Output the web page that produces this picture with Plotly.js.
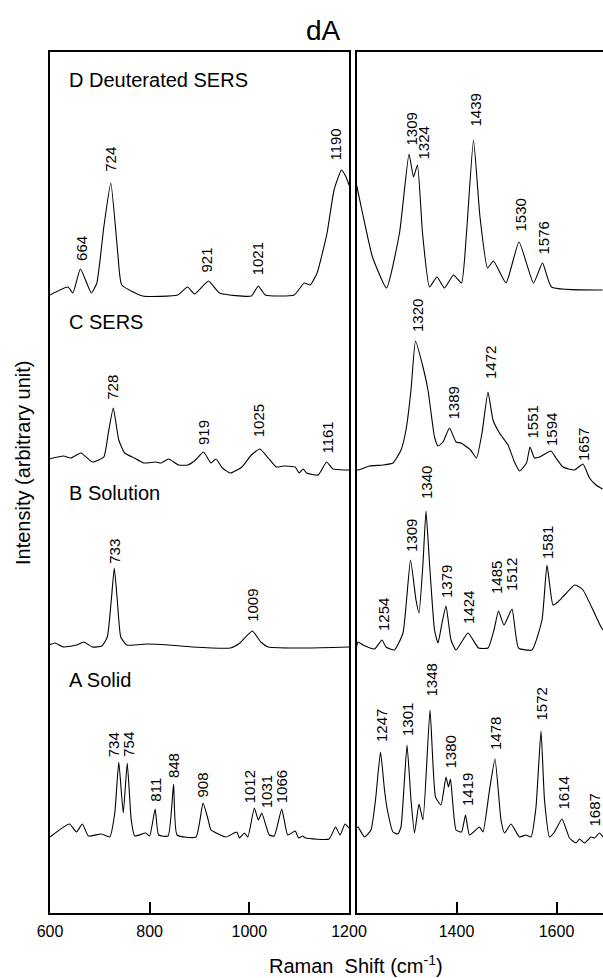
<!DOCTYPE html>
<html>
<head>
<meta charset="utf-8">
<script src="https://cdn.plot.ly/plotly-3.0.1.min.js"></script>
<style>html,body{margin:0;padding:0;background:#fff;}#chart{width:603px;height:978px;}</style>
</head>
<body>
<div id="chart"></div>
<script>
// ---- Spectrum D: Deuterated SERS (wavenumber, intensity above its own baseline) ----
const wavenumberD = [600,636,646,661,683,694,708,722,736,744,786,856,876,890,918,940,1004,1018,1032,1090,1110,1122,1136,1156,1170,1185,1194,1200,
  1201,1212,1232,1260,1286,1305,1314,1322,1332,1346,1361,1376,1394,1410,1420,1434,1447,1462,1474,1499,1525,1554,1572,1590,1692];
const intensityD  = [0,8,2,26,2,12,68,112,42,10,-1,0,8,1,14,2,-1,9,0,0,12,10,22,62,105,125,118,110,
  108,82,38,7,62,141,118,130,62,8,18,7,20,12,62,155,78,27,34,12,53,12,32,8,5];

// ---- Spectrum C: SERS ----
const wavenumberC = [598,627,642,662,685,708,717,727,738,750,769,788,812,823,838,858,877,892,908,923,933,946,962,985,1004,1021,1038,1054,1069,1092,1100,1108,1115,1138,1155,1168,1192,1200,
  1203,1226,1253,1273,1289,1299,1309,1318,1333,1343,1356,1363,1373,1386,1399,1409,1428,1440,1451,1463,1473,1486,1503,1516,1526,1540,1547,1556,1566,1589,1599,1613,1636,1653,1666,1679,1692];
const intensityC  = [3,6,4,9,0,5,29,54,22,9,4,-1,0,-1,3,-3,-3,2,10,-1,3,-6,-11,-5,7,13,4,-5,-4,-5,-11,-7,-11,-13,0,-7,-8,-8,
  -8,-4,-3,-1,12,32,72,121,95,72,25,16,20,34,20,19,12,4,29,70,42,29,17,0,-9,-1,15,4,5,11,4,-5,-8,-2,-16,-23,-27];

// ---- Spectrum B: Solution ----
const wavenumberB = [598,610,627,654,668,685,704,715,723,729,735,742,754,796,838,885,962,981,1006,1023,1038,1115,1200,
  1203,1213,1236,1251,1259,1276,1293,1308,1319,1325,1333,1339,1346,1356,1363,1371,1379,1389,1399,1423,1444,1463,1475,1484,1495,1511,1524,1551,1571,1581,1593,1603,1616,1636,1642,1653,1673,1689,1693];
const intensityB  = [2,4,0,2,5,0,1,10,47,79,47,10,2,3,2,0,-1,4,16,5,0,-1,0,
  5,2,-2,7,0,-3,14,87,47,34,84,136,84,17,4,24,41,7,-3,14,-1,-1,17,36,22,38,-1,-3,27,82,42,45,52,62,61,57,37,20,17];

// ---- Spectrum A: Solid ----
const wavenumberA = [600,639,653,665,677,703,720,730,738,747,755,763,770,792,800,811,818,837,848,855,893,907,916,923,930,953,975,980,990,997,1010,1018,1025,1040,1050,1065,1077,1092,1099,1107,1113,1160,1173,1182,1192,1200,
  1203,1216,1229,1238,1248,1256,1261,1273,1283,1289,1301,1309,1316,1325,1333,1347,1358,1369,1379,1384,1388,1399,1410,1418,1426,1446,1453,1466,1477,1489,1496,1509,1526,1539,1549,1559,1569,1576,1586,1596,1611,1626,1639,1646,1656,1669,1676,1686,1693];
const intensityA  = [0,13,5,13,1,3,0,24,75,24,74,17,1,4,1,28,2,1,53,2,0,34,20,7,5,0,5,-1,4,0,29,17,24,2,1,28,2,6,-1,1,-1,-2,10,2,13,9,
  10,0,7,37,85,47,29,5,3,10,92,37,4,33,17,127,40,32,60,50,58,7,5,22,2,10,5,47,78,17,4,13,0,2,0,30,106,37,0,5,18,-1,-6,-2,-6,0,-1,4,0];

// ---- Peak labels (text, wavenumber where the label sits, intensity at label foot) ----
const peakTextD = ['664','724','921','1021','1190','1309','1324','1439','1530','1576'];
const peakXD    = [663,721,915,1017,1171,1309,1333,1437,1527,1573];
const peakYD    = [33,122,22,19,133,148,134,167,62,39];

const peakTextC = ['728','919','1025','1161','1320','1389','1472','1551','1594','1657'];
const peakXC    = [725,908,1019,1155,1322,1393,1468,1551,1590,1654];
const peakYC    = [61,16,24,7,129,41,82,22,15,0];

const peakTextB = ['733','1009','1254','1309','1340','1379','1424','1485','1512','1581'];
const peakXB    = [729,1006,1254,1310,1340,1380,1424,1480,1510,1582];
const peakYB    = [82,24,15,94,147,48,22,52,55,87];

const peakTextA = ['734','754','811','848','908','1012','1031','1066','1247','1301','1348','1380','1419','1478','1572','1614','1687'];
const peakXA    = [728,757,810,848,907,1001,1035,1065,1250,1302,1349,1387,1422,1478,1569,1613,1675];
const peakYA    = [79,79,34,58,39,33,28,33,94,100,139,67,30,86,115,26,9];

const panelNames = ['D Deuterated SERS','C SERS','B Solution','A Solid'];
const tickValsLeft = [600,800,1000,1200];
const tickValsRight = [1400,1600];

// ---- build ----
const FONT = 'Liberation Sans, Arial, Helvetica, sans-serif';
const spectra = [
  {x: wavenumberD, y: intensityD, off: 618, lt: peakTextD, lx: peakXD, ly: peakYD, nameY: 833},
  {x: wavenumberC, y: intensityC, off: 451, lt: peakTextC, lx: peakXC, ly: peakYC, nameY: 591},
  {x: wavenumberB, y: intensityB, off: 266, lt: peakTextB, lx: peakXB, ly: peakYB, nameY: 420},
  {x: wavenumberA, y: intensityA, off: 76,  lt: peakTextA, lx: peakXA, ly: peakYA, nameY: 233}
];

const LINE = {color: '#000', width: 1.1, shape: 'spline', smoothing: 0.45};
const traces = [];
const annotations = [];
spectra.forEach((s, k) => {
  const lx = [], ly = [], rx = [], ry = [];
  s.x.forEach((v, i) => {
    if (v <= 1200) { lx.push(v); ly.push(s.y[i] + s.off); }
    if (v >= 1200) { rx.push(v); ry.push(s.y[i] + s.off); }
  });
  traces.push({x: lx, y: ly, xaxis: 'x', yaxis: 'y', mode: 'lines', type: 'scatter',
    line: LINE, hoverinfo: 'skip'});
  traces.push({x: rx, y: ry, xaxis: 'x2', yaxis: 'y2', mode: 'lines', type: 'scatter',
    line: LINE, hoverinfo: 'skip'});
  s.lt.forEach((t, i) => {
    const right = s.lx[i] > 1200;
    annotations.push({text: t, x: s.lx[i], y: s.ly[i] + s.off,
      xref: right ? 'x2' : 'x', yref: right ? 'y2' : 'y',
      showarrow: false, textangle: -90, xanchor: 'center', yanchor: 'bottom',
      font: {family: FONT, size: 15, color: '#000'}, borderpad: 0});
  });
  annotations.push({text: panelNames[k], x: 634, y: s.nameY, xref: 'x', yref: 'y',
    showarrow: false, xanchor: 'left', yanchor: 'middle',
    font: {family: FONT, size: 20, color: '#000'}});
});

annotations.push({text: 'Intensity (arbitrary unit)', xref: 'paper', yref: 'paper',
  x: (23 - 50) / 553, y: (913 - 463) / 861, textangle: -90, showarrow: false,
  xanchor: 'center', yanchor: 'middle', font: {family: FONT, size: 20, color: '#000'}});
annotations.push({text: 'Raman\u00a0 Shift (cm<sup>-1</sup>)', xref: 'paper', yref: 'paper',
  x: (356 - 50) / 553, y: (913 - 964) / 861, showarrow: false,
  xanchor: 'center', yanchor: 'middle', font: {family: FONT, size: 20, color: '#000'}});

const axisBase = {showline: true, linecolor: '#000', linewidth: 2, showgrid: false, zeroline: false};
const layout = {
  width: 603, height: 978,
  margin: {l: 50, r: 0, t: 52, b: 65, pad: 0},
  paper_bgcolor: '#fff', plot_bgcolor: '#fff',
  showlegend: false,
  title: {text: 'dA', x: 323 / 603, xanchor: 'center', y: 1 - 30 / 978, yanchor: 'middle',
    font: {family: FONT, size: 28, color: '#000'}},
  xaxis: Object.assign({}, axisBase, {domain: [0, 299 / 553], range: [600, 1200], anchor: 'y',
    mirror: true, ticks: 'inside', ticklen: 11, tickwidth: 2, tickcolor: '#000',
    tickvals: tickValsLeft, ticktext: tickValsLeft.map(String), ticklabelstandoff: 3,
    tickfont: {family: FONT, size: 16, color: '#000'}}),
  xaxis2: Object.assign({}, axisBase, {domain: [306.5 / 553, 1], range: [1200, 1693], anchor: 'y2',
    mirror: true, ticks: 'inside', ticklen: 11, tickwidth: 2, tickcolor: '#000',
    tickvals: tickValsRight, ticktext: tickValsRight.map(String), ticklabelstandoff: 3,
    tickfont: {family: FONT, size: 16, color: '#000'}}),
  yaxis: Object.assign({}, axisBase, {domain: [0, 1], range: [0, 861], anchor: 'x', mirror: true,
    showticklabels: false, ticks: ''}),
  yaxis2: Object.assign({}, axisBase, {domain: [0, 1], range: [0, 861], anchor: 'x2', mirror: false,
    showticklabels: false, ticks: ''}),
  annotations: annotations
};

Plotly.newPlot('chart', traces, layout, {staticPlot: true, displayModeBar: false});
</script>
</body>
</html>
